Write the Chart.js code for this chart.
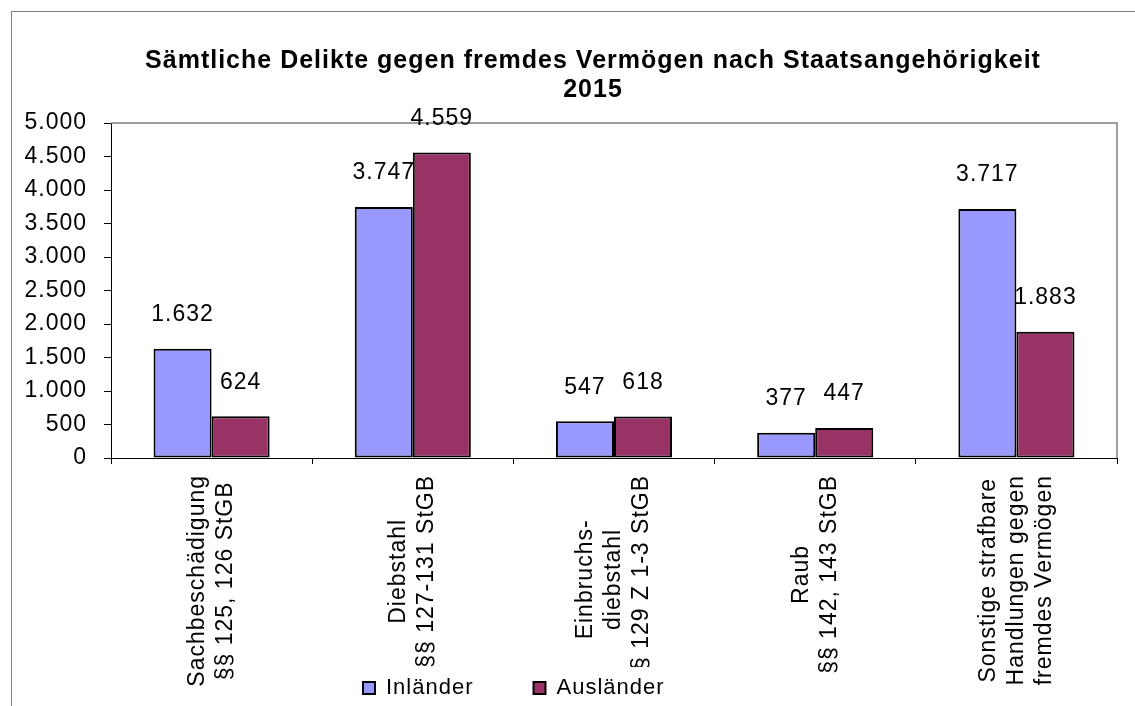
<!DOCTYPE html>
<html>
<head>
<meta charset="utf-8">
<script src="https://cdn.jsdelivr.net/npm/chart.js@4.4.0/dist/chart.umd.min.js"></script>
<style>
  html, body { margin: 0; padding: 0; background: #fff; }
  #wrap { position: relative; width: 1135px; height: 706px; overflow: hidden; }
  #frame { position: absolute; left: 11px; top: 11px; width: 1200px; height: 800px;
           border-left: 1px solid #808080; border-top: 1px solid #808080; }
  #chart { position: absolute; left: 0; top: 0; }
</style>
</head>
<body>
<div id="wrap">
  <div id="frame"></div>
  <canvas id="chart" width="1135" height="706"></canvas>
</div>
<script>
let categories = [
  ['Sachbeschädigung', '§§ 125, 126 StGB'],
  ['Diebstahl', '§§ 127-131 StGB'],
  ['Einbruchs-', 'diebstahl', '§§ 129 Z 1-3 StGB'],
  ['Raub', '§§ 142, 143 StGB'],
  ['Sonstige strafbare', 'Handlungen gegen', 'fremdes Vermögen']
];
let inlaender = [1632, 3747, 547, 377, 3717];
let auslaender = [624, 4559, 618, 447, 1883];
let yTicks = [0, 500, 1000, 1500, 2000, 2500, 3000, 3500, 4000, 4500, 5000];

let fontFamily = '"Liberation Sans", Arial, sans-serif';
Chart.defaults.font.family = fontFamily;
Chart.defaults.color = '#000';

// 1.632 instead of 1632
function fmt(v) {
  return String(v).replace(/\B(?=(\d{3})+(?!\d))/g, '.');
}

// the original text runs a bit wider than Arial
let spacing = {
  id: 'spacing',
  beforeLayout(chart) { chart.ctx.letterSpacing = '1px'; },
  beforeDraw(chart) { chart.ctx.letterSpacing = '1px'; }
};

// rotated category labels, lines centred on each other
let xLabels = {
  id: 'xLabels',
  beforeDraw(chart) {
    let ctx = chart.ctx;
    let xs = chart.scales.x;
    let area = chart.chartArea;
    ctx.save();
    ctx.font = '23px ' + fontFamily;
    ctx.fillStyle = '#000';
    ctx.textAlign = 'center';
    ctx.textBaseline = 'middle';
    categories.forEach((lines, i) => {
      let cx = xs.getPixelForValue(i);
      let longest = Math.max(...lines.map(l => ctx.measureText(l).width));
      let cy = area.bottom + 17 + longest / 2;
      lines.forEach((line, k) => {
        ctx.save();
        ctx.translate(cx + (k - (lines.length - 1) / 2) * 28, cy);
        ctx.rotate(-Math.PI / 2);
        ctx.fillText(line, 0, 0);
        ctx.restore();
      });
    });
    // legend sits on a white box over the labels
    ctx.fillStyle = '#fff';
    ctx.fillRect(350, 667, 330, 39);
    ctx.restore();
  },
  afterLayout(chart) {
    let lg = chart.legend;
    let p = lg.options.labels.padding;
    lg.left = 363 - p;
    lg.right = 1135;
    lg.top = 688 - p - 11;
    chart.titleBlock.left = 51;
    chart.titleBlock.right = 1135;
  }
};

// grey frame on top and right of the plot
let plotFrame = {
  id: 'plotFrame',
  beforeDatasetsDraw(chart) {
    let ctx = chart.ctx;
    let a = chart.chartArea;
    ctx.save();
    ctx.strokeStyle = '#808080';
    ctx.lineWidth = 1.5;
    ctx.beginPath();
    ctx.moveTo(a.left, a.top);
    ctx.lineTo(a.right, a.top);
    ctx.lineTo(a.right, a.bottom);
    ctx.stroke();
    ctx.restore();
  }
};

let barValues = {
  id: 'barValues',
  afterDatasetsDraw(chart) {
    let ctx = chart.ctx;
    ctx.save();
    ctx.font = '23px ' + fontFamily;
    ctx.fillStyle = '#000';
    ctx.textAlign = 'center';
    ctx.textBaseline = 'middle';
    chart.data.datasets.forEach((ds, d) => {
      chart.getDatasetMeta(d).data.forEach((bar, i) => {
        ctx.fillText(fmt(ds.data[i]), bar.x, bar.y - 34);
      });
    });
    ctx.restore();
  }
};

let dataInl = {
  label: 'Inländer',
  data: inlaender,
  backgroundColor: '#9999ff',
  borderColor: '#000',
  borderWidth: 2,
  borderSkipped: false,
  categoryPercentage: 0.577,
  barPercentage: 1
};

let dataAusl = {
  label: 'Ausländer',
  data: auslaender,
  backgroundColor: '#993366',
  borderColor: '#000',
  borderWidth: 2,
  borderSkipped: false,
  categoryPercentage: 0.577,
  barPercentage: 1
};

let barChart = new Chart(document.getElementById('chart'), {
  type: 'bar',
  data: {
    labels: categories,
    datasets: [dataInl, dataAusl]
  },
  plugins: [spacing, xLabels, plotFrame, barValues],
  options: {
    responsive: false,
    animation: false,
    events: [],
    layout: { padding: { left: 0, right: 18, top: 0, bottom: 0 } },
    plugins: {
      title: {
        display: true,
        text: ['Sämtliche Delikte gegen fremdes Vermögen nach Staatsangehörigkeit', '2015'],
        color: '#000',
        font: { size: 25, weight: 'bold', lineHeight: 1.14 },
        padding: { top: 47, bottom: 19 }
      },
      legend: {
        position: 'bottom',
        align: 'start',
        maxHeight: 40,
        labels: {
          boxWidth: 12,
          boxHeight: 12,
          padding: 60,
          color: '#000',
          font: { size: 22 }
        }
      },
      tooltip: { enabled: false }
    },
    scales: {
      x: {
        afterFit: s => { s.height = 208; },
        ticks: { display: false },
        grid: { drawOnChartArea: false, drawTicks: true, tickLength: 6, color: '#000', offset: true },
        border: { color: '#000', width: 1 }
      },
      y: {
        min: 0,
        max: 5000,
        afterBuildTicks: s => { s.ticks = yTicks.map(v => ({ value: v })); },
        afterFit: s => { s.width = 111; },
        ticks: { font: { size: 23 }, color: '#000', padding: 17, callback: v => fmt(v) },
        grid: { drawOnChartArea: false, drawTicks: true, tickLength: 7, color: '#000' },
        border: { color: '#000', width: 1 }
      }
    }
  }
});
</script>
</body>
</html>
